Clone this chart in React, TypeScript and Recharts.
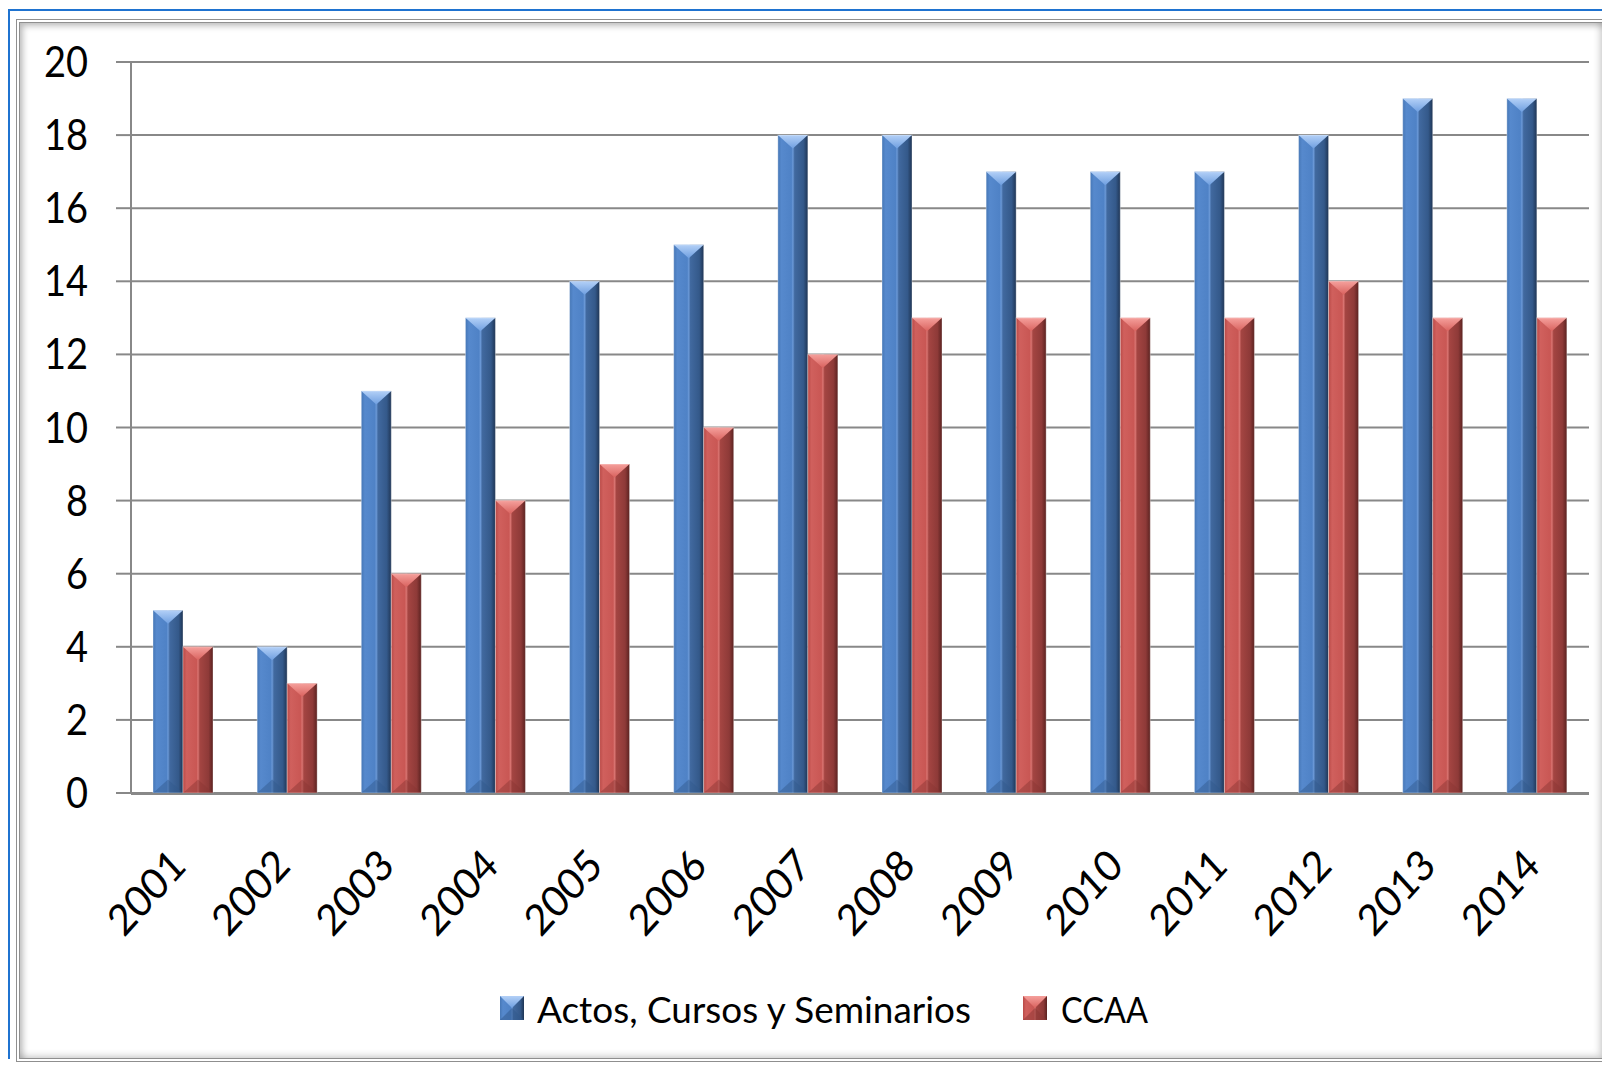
import React from 'react';
import { BarChart, Bar, XAxis, YAxis, CartesianGrid, Legend } from 'recharts';

const years = ['2001', '2002', '2003', '2004', '2005', '2006', '2007', '2008', '2009', '2010', '2011', '2012', '2013', '2014'];
const actos = [5, 4, 11, 13, 14, 15, 18, 18, 17, 17, 17, 18, 19, 19];
const ccaa = [4, 3, 6, 8, 9, 10, 12, 13, 13, 13, 13, 14, 13, 13];
const seriesNames = ['Actos, Cursos y Seminarios', 'CCAA'];
const yTicks = [0, 2, 4, 6, 8, 10, 12, 14, 16, 18, 20];
const edgeTicks = years.map((_, i) => i).concat([years.length]);

const data = years.map((y, i) => ({ year: y, actos: actos[i], ccaa: ccaa[i] }));

const FONT = 'Lato, "Open Sans", sans-serif';
const AXIS_GRAY = '#888888';

const palettes: Record<string, { top: string; topEnd: string; bottom: string }> = {
  blue: { top: '#b3d0f7', topEnd: '#6f9fe0', bottom: '#30588c' },
  red: { top: '#f5a09c', topEnd: '#d9625e', bottom: '#8a3533' },
};

function BevelBar(props: any) {
  const { x, y, width: w, height: h, kind } = props;
  if (!h || h <= 0) return null;
  const p = palettes[kind];
  const b = Math.min(w * 0.45, h / 2);
  return (
    <g>
      <rect x={x} y={y} width={w} height={h} fill={`url(#body-${kind})`} />
      <polygon points={`${x},${y} ${x + w},${y} ${x + w / 2},${y + b}`} fill={`url(#top-${kind})`} />
      <polygon points={`${x},${y + h} ${x + w},${y + h} ${x + w / 2},${y + h - b}`} fill={p.bottom} opacity={0.45} />
      <rect x={x} y={y} width={w} height={h} fill="none" stroke="rgba(255,255,255,0.35)" strokeWidth={1} />
    </g>
  );
}

function YTick(props: any) {
  const { x, y, payload } = props;
  return (
    <g transform={`translate(${x},${y}) scale(1,1.1)`}>
      <text x={0} y={0} dy="0.36em" textAnchor="end" fontFamily={FONT} fontSize={38} fill="#000">
        {payload.value}
      </text>
    </g>
  );
}

function XTick(props: any) {
  const { x, y, payload } = props;
  return (
    <g transform={`translate(${x + 5},${y + 75}) scale(1,1.1) rotate(-45)`}>
      <text x={0} y={0} textAnchor="end" fontFamily={FONT} fontSize={39} fill="#000">
        {payload.value}
      </text>
    </g>
  );
}

function LegendSquare({ x, y, kind }: { x: number; y: number; kind: string }) {
  const s = 24;
  const p = palettes[kind];
  return (
    <g>
      <rect x={x} y={y} width={s} height={s} fill={`url(#body-${kind})`} />
      <polygon points={`${x},${y} ${x + s},${y} ${x + s / 2},${y + s / 2}`} fill={`url(#top-${kind})`} />
      <polygon points={`${x},${y + s} ${x + s},${y + s} ${x + s / 2},${y + s / 2}`} fill={p.bottom} opacity={0.5} />
    </g>
  );
}

function LegendContent(props: any) {
  const payload = props.payload || [];
  const itemX = [492, 1015];
  const textX = [529, 1053];
  const textW = [434, 87];
  const kinds = ['blue', 'red'];
  return (
    <svg width={1594} height={60} style={{ display: 'block' }}>
      {payload.map((entry: any, i: number) => (
        <g key={i}>
          <LegendSquare x={itemX[i]} y={21} kind={kinds[i]} />
          <text
            x={textX[i]}
            y={48}
            fontFamily={FONT}
            fontSize={37}
            fill="#000"
            textLength={textW[i]}
            lengthAdjust="spacingAndGlyphs"
          >
            {entry.value}
          </text>
        </g>
      ))}
    </svg>
  );
}

export default function App() {
  return (
    <div style={{ position: 'relative', width: 1602, height: 1057 }}>
      <div
        style={{
          position: 'absolute',
          left: 0,
          top: 1,
          width: 1602,
          height: 1050,
          borderTop: '2px solid #1f73d0',
          borderLeft: '2px solid #1f73d0',
          boxSizing: 'border-box',
        }}
      />
      <div
        style={{
          position: 'absolute',
          left: 8,
          top: 11,
          width: 1590,
          height: 1043,
          border: '4px double #8f8f8f',
          boxShadow: 'inset 3px 3px 6px rgba(0,0,0,0.25), inset -3px -3px 6px rgba(0,0,0,0.15)',
          boxSizing: 'border-box',
          background: '#fff',
        }}
      />
      <div style={{ position: 'absolute', left: 0, top: 0 }}>
        <BarChart
          width={1594}
          height={1049}
          data={data}
          margin={{ top: 54, right: 13, left: 20, bottom: 262 }}
          barCategoryGap={22}
          barGap={0}
        >
          <defs>
            <linearGradient id="body-blue" x1="0" y1="0" x2="1" y2="0">
              <stop offset="0" stopColor="#4677b6" />
              <stop offset="0.12" stopColor="#5689cd" />
              <stop offset="0.45" stopColor="#4f82c6" />
              <stop offset="0.5" stopColor="#6a98d6" />
              <stop offset="0.56" stopColor="#41699f" />
              <stop offset="0.85" stopColor="#34598a" />
              <stop offset="1" stopColor="#1f3554" />
            </linearGradient>
            <linearGradient id="body-red" x1="0" y1="0" x2="1" y2="0">
              <stop offset="0" stopColor="#b94a47" />
              <stop offset="0.12" stopColor="#d0605d" />
              <stop offset="0.45" stopColor="#c95754" />
              <stop offset="0.5" stopColor="#d97471" />
              <stop offset="0.56" stopColor="#a44542" />
              <stop offset="0.85" stopColor="#8e3a38" />
              <stop offset="1" stopColor="#5a2220" />
            </linearGradient>
            <linearGradient id="top-blue" x1="0" y1="0" x2="0" y2="1">
              <stop offset="0" stopColor={palettes.blue.top} />
              <stop offset="1" stopColor={palettes.blue.topEnd} />
            </linearGradient>
            <linearGradient id="top-red" x1="0" y1="0" x2="0" y2="1">
              <stop offset="0" stopColor={palettes.red.top} />
              <stop offset="1" stopColor={palettes.red.topEnd} />
            </linearGradient>
          </defs>
          <CartesianGrid vertical={false} stroke={AXIS_GRAY} strokeWidth={2} />
          <XAxis
            xAxisId="edges"
            type="number"
            domain={[0, years.length]}
            ticks={edgeTicks}
            tick={false}
            tickSize={16}
            height={1}
            axisLine={{ stroke: AXIS_GRAY, strokeWidth: 2 }}
            tickLine={{ stroke: AXIS_GRAY, strokeWidth: 2 }}
            allowDataOverflow
          />
          <XAxis
            dataKey="year"
            height={1}
            axisLine={false}
            tickLine={false}
            tickSize={0}
            tickMargin={0}
            interval={0}
            tick={<XTick />}
          />
          <YAxis
            domain={[0, 20]}
            ticks={yTicks}
            width={103}
            tickSize={15}
            tickMargin={28}
            interval={0}
            axisLine={{ stroke: AXIS_GRAY, strokeWidth: 2 }}
            tickLine={{ stroke: AXIS_GRAY, strokeWidth: 2 }}
            tick={<YTick />}
          />
          <Legend
            layout="horizontal"
            verticalAlign="middle"
            align="center"
            wrapperStyle={{ top: 967, left: 0, width: 1594, height: 60 }}
            content={<LegendContent />}
          />
          <Bar
            dataKey="actos"
            name={seriesNames[0]}
            fill="#4f81bd"
            isAnimationActive={false}
            shape={(p: any) => <BevelBar {...p} kind="blue" />}
          />
          <Bar
            dataKey="ccaa"
            name={seriesNames[1]}
            fill="#c0504d"
            isAnimationActive={false}
            shape={(p: any) => <BevelBar {...p} kind="red" />}
          />
        </BarChart>
      </div>
    </div>
  );
}
